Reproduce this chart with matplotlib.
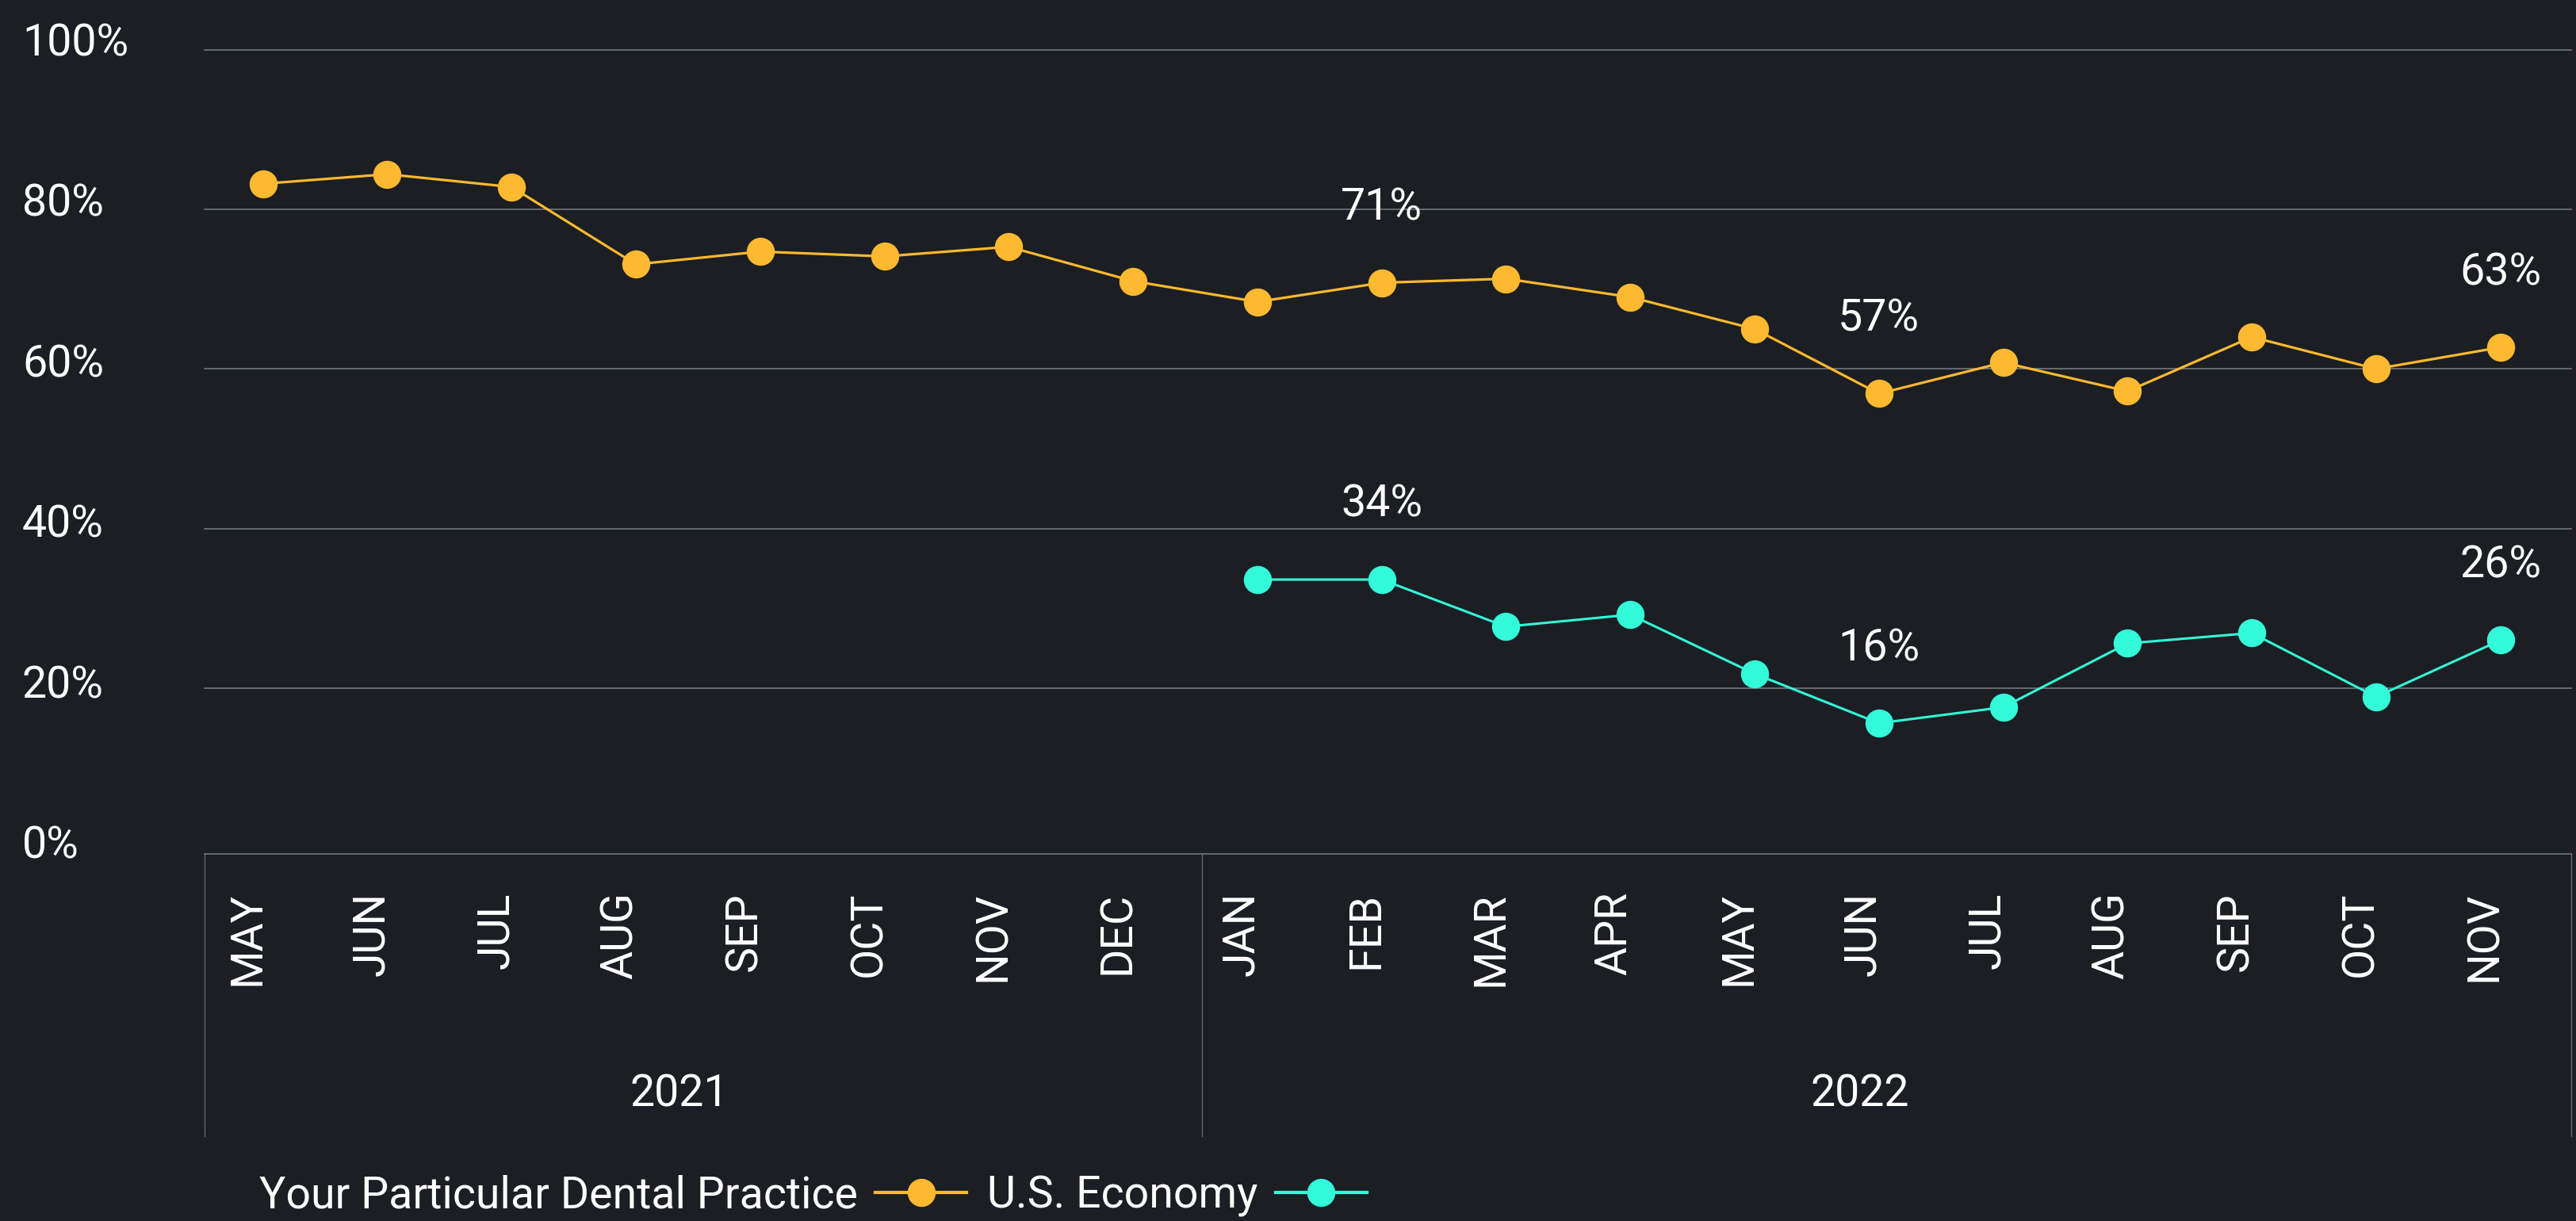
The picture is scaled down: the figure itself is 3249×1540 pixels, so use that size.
import numpy as np
import matplotlib
matplotlib.use("Agg")
import matplotlib.pyplot as plt
from matplotlib.lines import Line2D
from matplotlib.transforms import blended_transform_factory, offset_copy

# --- data -------------------------------------------------------------
months = ["MAY", "JUN", "JUL", "AUG", "SEP", "OCT", "NOV", "DEC",
          "JAN", "FEB", "MAR", "APR", "MAY", "JUN", "JUL", "AUG", "SEP", "OCT", "NOV"]
years = ["2021", "2022"]
year_first = [0, 8]      # first month index of each year
year_last = [7, 18]

practice = [83.2, 84.4, 82.8, 73.1, 74.7, 74.1, 75.3, 71.0,
            68.4, 70.8, 71.3, 69.0, 65.0, 56.9, 60.8, 57.2, 64.0, 60.0, 62.7]
economy = [np.nan] * 8 + [33.6, 33.6, 27.7, 29.2, 21.8, 15.6, 17.6, 25.6, 26.9, 18.9, 26.0]
labelled = [9, 13, 18]

yticks = [0, 20, 40, 60, 80, 100]
series_names = ["Your Particular Dental Practice", "U.S. Economy"]

# --- style ------------------------------------------------------------
BG = "#1b1e23"
ORANGE = "#fdb92f"
CYAN = "#33fbd9"
GRID = "#6b7079"
WHITE = "#ffffff"
FS = 40

plt.rcParams["font.family"] = ["Roboto", "DejaVu Sans"]

W, H = 3249, 1540
fig = plt.figure(figsize=(W / 100, H / 100), dpi=100, facecolor=BG)
left, right, top, bottom = 258, 3243, 62.7, 1077
ax = fig.add_axes([left / W, 1 - bottom / H, (right - left) / W, (bottom - top) / H])
ax.set_facecolor(BG)
ax.set_xlim(-0.47, len(months) - 0.43)
ax.set_ylim(-0.78, 100)
for s in ax.spines.values():
    s.set_visible(False)
ax.set_xticks([])
ax.set_yticks([])

# gridlines
for v in yticks[1:]:
    ax.axhline(v, color=GRID, lw=1.3, zorder=1, clip_on=False)
ax.axhline(-0.78, color=GRID, lw=1.3, zorder=1, clip_on=False)

# y labels (left aligned at figure edge)
ytr = blended_transform_factory(fig.transFigure, ax.transData)
for v in yticks:
    fig.text(28 / W, 1.0064 * v - 1.37, f"{v}%", transform=ytr, ha="left", va="baseline",
             fontsize=FS, color=WHITE)

x = np.arange(len(months))
ax.plot(x, practice, color=ORANGE, lw=2.3, marker="o", ms=24.5, zorder=3, clip_on=False)
ax.plot(x, economy, color=CYAN, lw=2.2, marker="o", ms=24.5, zorder=3, clip_on=False)

for i in labelled:
    for ser in (practice, economy):
        ax.annotate(f"{ser[i]:.0f}%", (i, ser[i]), xytext=(0, 79), textcoords="offset pixels",
                    ha="center", va="baseline", fontsize=FS, color=WHITE)

# category axis (months + years)
xtr = blended_transform_factory(ax.transData, ax.transAxes)
px = lambda p: (bottom - p) / (bottom - top)   # figure pixel row -> axes y
mtr = offset_copy(xtr, fig=fig, x=-20, y=0, units="dots")
for i, m in enumerate(months):
    ax.text(i, px(1125), m, transform=mtr, rotation=90, ha="center", va="top",
            fontsize=FS, color=WHITE)

# year separators: axes edges and the Dec/Jan boundary
sep_tr = ax.transAxes
for sx in [0.0, (1516 - left) / (right - left), 1.0]:
    ax.plot([sx, sx], [0, px(1433)], transform=sep_tr, color=GRID, lw=0.9, clip_on=False)

ytr2 = offset_copy(xtr, fig=fig, x=-24, y=0, units="dots")
for yr, a, b in zip(years, year_first, year_last):
    ax.text((a + b) / 2, px(1395), yr, transform=ytr2, ha="center", va="baseline",
            fontsize=FS, color=WHITE)

# legend: label first, then line+marker
handles = [Line2D([], [], color=ORANGE, lw=3, marker="o", ms=24.5),
           Line2D([], [], color=CYAN, lw=3, marker="o", ms=24.5)]
leg = fig.legend(handles, series_names, loc="center left", bbox_to_anchor=(327 / W, 1 - 1508 / H),
                 ncol=2, markerfirst=False, frameon=False, fontsize=FS, handlelength=2.07,
                 handletextpad=0.4, columnspacing=0.47, borderpad=0, borderaxespad=0)
for t in leg.get_texts():
    t.set_color(WHITE)

fig.savefig("out.png", dpi=100, facecolor=BG)
